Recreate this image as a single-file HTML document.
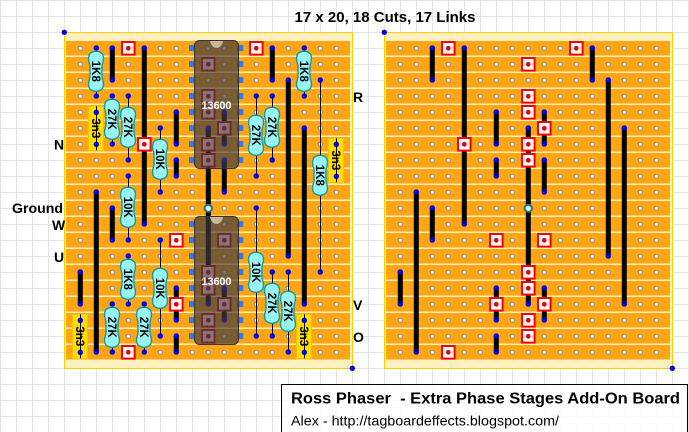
<!DOCTYPE html>
<html>
<head>
<meta charset="utf-8">
<style>
html,body{margin:0;padding:0;background:#fff;width:689px;height:432px;overflow:hidden}
svg{display:block}
text{font-family:"Liberation Sans",sans-serif}
.l{font-weight:bold;font-size:14px;fill:#000}
.r{font-size:11.5px;font-weight:bold;fill:#000;text-anchor:middle}
.k{stroke:#000;stroke-width:5;fill:none;stroke-linecap:butt}
.t{stroke:#000;stroke-width:1;fill:none}
</style>
</head>
<body>
<svg xmlns="http://www.w3.org/2000/svg" width="689" height="432" viewBox="0 0 689 432">
<defs>
<pattern id="grid" width="16" height="16" patternUnits="userSpaceOnUse">
<path d="M16.5 0V16M0 16.5H16M.5 0V16M0 .5H16" stroke="#e4e4e4" stroke-width="1" fill="none"/>
</pattern>
<pattern id="strip" x="0" y="41" width="16" height="16" patternUnits="userSpaceOnUse">
<rect width="16" height="14.5" fill="#ffa514"/>
<rect y="14.5" width="16" height="1.5" fill="#fff0c0"/>
</pattern>
<pattern id="hole" x="72" y="40" width="16" height="16" patternUnits="userSpaceOnUse">
<circle cx="8.3" cy="8.3" r="2.1" fill="#fff" stroke="#8a8a8a" stroke-width="1"/>
</pattern>
<g id="cut">
<rect x="-6" y="-6" width="12.6" height="12.6" fill="#fff" stroke="#f00" stroke-width="2"/>
<circle cx=".3" cy=".3" r="2.4" fill="#e00"/>
</g>
<circle id="d" r="2.7" fill="#0000e6"/>
<path id="rb" d="M0-20C5-20 7.5-17 7.5-13C7.5-9 6-8 6-5V5C6 8 7.5 9 7.5 13C7.5 17 5 20 0 20C-5 20-7.5 17-7.5 13C-7.5 9-6 8-6 5V-5C-6-8-7.5-9-7.5-13C-7.5-17-5-20 0-20Z" fill="#99f5f5" stroke="#159a9a" stroke-width="1.4"/>
<rect id="cap" x="-7.5" y="-22" width="15" height="44.5" fill="#ffdd00" stroke="#f2c200" stroke-width="1"/>
<g id="pins" fill="#3377ee">
<rect x="-3" y="-3" width="6" height="6"/><rect x="-3" y="13" width="6" height="6"/><rect x="-3" y="29" width="6" height="6"/><rect x="-3" y="45" width="6" height="6"/><rect x="-3" y="61" width="6" height="6"/><rect x="-3" y="77" width="6" height="6"/><rect x="-3" y="93" width="6" height="6"/><rect x="-3" y="109" width="6" height="6"/>
</g>
<g id="ring"><circle r="3.6" fill="#fff" stroke="#157a85" stroke-width="2"/></g>
</defs>

<rect width="689" height="432" fill="#fff"/>
<rect width="689" height="432" fill="url(#grid)"/>

<!-- boards -->
<rect x="64.5" y="32.5" width="288" height="336" fill="#fff0c0" stroke="#ffcc00" stroke-width="1"/>
<rect x="66" y="41" width="284" height="318.5" fill="url(#strip)"/>
<rect x="384.5" y="32.5" width="288" height="336" fill="#fff0c0" stroke="#ffcc00" stroke-width="1"/>
<rect x="386" y="41" width="284" height="318.5" fill="url(#strip)"/>
<rect x="72" y="40" width="272" height="320" fill="url(#hole)"/>
<rect x="392" y="40" width="272" height="320" fill="url(#hole)"/>

<!-- left board links -->
<path class="k" d="M112.3 48V80M144.3 48V224M96.3 192V352M112.3 208V240M176.3 112V144M176.3 160V176M208.3 128V304M224.3 112V144M224.3 160V192M80.3 272V304M176.3 288V320M176.3 336V352M224.3 288V320M272.3 48V80M288.3 80V256M304.3 128V304"/>
<g>
<use href="#d" x="112.3" y="48"/><use href="#d" x="112.3" y="80"/><use href="#d" x="144.3" y="48"/><use href="#d" x="144.3" y="224"/>
<use href="#d" x="96.3" y="192"/><use href="#d" x="96.3" y="352"/><use href="#d" x="112.3" y="208"/><use href="#d" x="112.3" y="240"/>
<use href="#d" x="176.3" y="112"/><use href="#d" x="176.3" y="144"/><use href="#d" x="176.3" y="160"/><use href="#d" x="176.3" y="176"/>
<use href="#d" x="208.3" y="128"/><use href="#d" x="208.3" y="304"/><use href="#d" x="224.3" y="112"/><use href="#d" x="224.3" y="144"/>
<use href="#d" x="224.3" y="160"/><use href="#d" x="224.3" y="192"/><use href="#d" x="80.3" y="272"/><use href="#d" x="80.3" y="304"/>
<use href="#d" x="176.3" y="288"/><use href="#d" x="176.3" y="320"/><use href="#d" x="176.3" y="336"/><use href="#d" x="176.3" y="352"/>
<use href="#d" x="224.3" y="288"/><use href="#d" x="224.3" y="320"/><use href="#d" x="272.3" y="48"/><use href="#d" x="272.3" y="80"/>
<use href="#d" x="288.3" y="80"/><use href="#d" x="288.3" y="256"/><use href="#d" x="304.3" y="128"/><use href="#d" x="304.3" y="304"/>
</g>

<!-- left board cuts -->
<use href="#cut" x="128" y="48"/><use href="#cut" x="144" y="144"/><use href="#cut" x="176" y="240"/><use href="#cut" x="176" y="304"/><use href="#cut" x="128" y="352"/><use href="#cut" x="256" y="48"/>
<use href="#cut" x="208" y="64"/><use href="#cut" x="208" y="96"/><use href="#cut" x="208" y="112"/><use href="#cut" x="224" y="128"/><use href="#cut" x="208" y="144"/><use href="#cut" x="208" y="160"/>
<use href="#cut" x="224" y="240"/><use href="#cut" x="208" y="272"/><use href="#cut" x="208" y="288"/><use href="#cut" x="224" y="304"/><use href="#cut" x="208" y="320"/><use href="#cut" x="208" y="336"/>

<!-- ICs -->
<use href="#pins" x="192" y="48"/><use href="#pins" x="240.3" y="48"/>
<use href="#pins" x="192" y="224"/><use href="#pins" x="240.3" y="224"/>
<g fill="#3c3a3e" fill-opacity=".68" stroke="#333" stroke-width="1">
<rect x="194.5" y="40.5" width="44" height="128" rx="5"/>
<rect x="194.5" y="216.5" width="44" height="128" rx="5"/>
</g>
<path d="M210 41H223C222 46 219 48 216.5 48C214 48 211 46 210 41Z" fill="#c9b79a"/>
<path d="M210 217H223C222 222 219 224 216.5 224C214 224 211 222 210 217Z" fill="#c9b79a"/>
<text x="201.5" y="109" font-size="11" font-weight="bold" fill="#fff" textLength="30" lengthAdjust="spacing">13600</text>
<text x="201.5" y="285" font-size="11" font-weight="bold" fill="#fff" textLength="30" lengthAdjust="spacing">13600</text>
<use href="#ring" x="208.3" y="208.3"/>

<!-- thin leads -->
<path class="t" d="M96.5 48V96M112.5 96V144M128.5 96V160M128.5 176V240M160.5 128V192M128.5 256V304M160.5 240V336M112.5 304V352M144.5 304V352M256.5 96V176M272.5 96V160M304.5 48V96M320.5 80V272M256.5 208V336M272.5 272V336M288.5 272V352"/>

<!-- capacitors -->
<g transform="translate(96,128.3)"><use href="#cap"/><path class="t" d="M.5-22V22"/><use href="#d" x=".3" y="-16"/><use href="#d" x=".3" y="16"/><text class="r" transform="rotate(90)" dy="4">3n3</text></g>
<g transform="translate(80,336.3)"><use href="#cap"/><path class="t" d="M.5-22V22"/><use href="#d" x=".3" y="-16"/><use href="#d" x=".3" y="16"/><text class="r" transform="rotate(90)" dy="4">3n3</text></g>
<g transform="translate(336,160.3)"><use href="#cap"/><path class="t" d="M.5-22V22"/><use href="#d" x=".3" y="-16"/><use href="#d" x=".3" y="16"/><text class="r" transform="rotate(90)" dy="4">3n3</text></g>
<g transform="translate(304,336.3)"><use href="#cap"/><path class="t" d="M.5-22V22"/><use href="#d" x=".3" y="-16"/><use href="#d" x=".3" y="16"/><text class="r" transform="rotate(90)" dy="4">3n3</text></g>

<!-- resistors -->
<g transform="translate(96,71.3)"><use href="#rb"/><text class="r" transform="rotate(90)" dy="4">1K8</text></g>
<g transform="translate(112,119.3)"><use href="#rb"/><text class="r" transform="rotate(90)" dy="4">27K</text></g>
<g transform="translate(128,127.3)"><use href="#rb"/><text class="r" transform="rotate(90)" dy="4">27K</text></g>
<g transform="translate(128,207.3)"><use href="#rb"/><text class="r" transform="rotate(90)" dy="4">10K</text></g>
<g transform="translate(160,159.3)"><use href="#rb"/><text class="r" transform="rotate(90)" dy="4">10K</text></g>
<g transform="translate(128,279.3)"><use href="#rb"/><text class="r" transform="rotate(90)" dy="4">1K8</text></g>
<g transform="translate(160,288.3)"><use href="#rb"/><text class="r" transform="rotate(90)" dy="4">10K</text></g>
<g transform="translate(112,327.3)"><use href="#rb"/><text class="r" transform="rotate(90)" dy="4">27K</text></g>
<g transform="translate(144,327.3)"><use href="#rb"/><text class="r" transform="rotate(90)" dy="4">27K</text></g>
<g transform="translate(256,135.3)"><use href="#rb"/><text class="r" transform="rotate(90)" dy="4">27K</text></g>
<g transform="translate(272,127.3)"><use href="#rb"/><text class="r" transform="rotate(90)" dy="4">27K</text></g>
<g transform="translate(304,71.3)"><use href="#rb"/><text class="r" transform="rotate(90)" dy="4">1K8</text></g>
<g transform="translate(320,175.3)"><use href="#rb"/><text class="r" transform="rotate(90)" dy="4">1K8</text></g>
<g transform="translate(256,272.3)"><use href="#rb"/><text class="r" transform="rotate(90)" dy="4">10K</text></g>
<g transform="translate(272,303.3)"><use href="#rb"/><text class="r" transform="rotate(90)" dy="4">27K</text></g>
<g transform="translate(288,311.3)"><use href="#rb"/><text class="r" transform="rotate(90)" dy="4">27K</text></g>

<!-- component dots -->
<g>
<use href="#d" x="96.3" y="48"/><use href="#d" x="96.3" y="96"/><use href="#d" x="112.3" y="96"/><use href="#d" x="112.3" y="144"/><use href="#d" x="128.3" y="96"/><use href="#d" x="128.3" y="160"/>
<use href="#d" x="128.3" y="176"/><use href="#d" x="128.3" y="240"/><use href="#d" x="160.3" y="128"/><use href="#d" x="160.3" y="192"/><use href="#d" x="128.3" y="256"/><use href="#d" x="128.3" y="304"/>
<use href="#d" x="160.3" y="240"/><use href="#d" x="160.3" y="336"/><use href="#d" x="112.3" y="304"/><use href="#d" x="112.3" y="352"/><use href="#d" x="144.3" y="304"/><use href="#d" x="144.3" y="352"/>
<use href="#d" x="256.3" y="96"/><use href="#d" x="256.3" y="176"/><use href="#d" x="272.3" y="96"/><use href="#d" x="272.3" y="160"/><use href="#d" x="304.3" y="48"/><use href="#d" x="304.3" y="96"/>
<use href="#d" x="320.3" y="80"/><use href="#d" x="320.3" y="272"/><use href="#d" x="256.3" y="208"/><use href="#d" x="256.3" y="336"/><use href="#d" x="272.3" y="272"/><use href="#d" x="272.3" y="336"/>
<use href="#d" x="288.3" y="272"/><use href="#d" x="288.3" y="352"/>
</g>

<!-- right board links -->
<path class="k" d="M432.3 48V80M464.3 48V224M592.3 48V80M608.3 80V256M624.3 128V304M496.3 112V144M496.3 160V176M528.3 128V304M544.3 112V144M544.3 160V192M416.3 192V352M432.3 208V240M400.3 272V304M496.3 288V320M496.3 336V352M544.3 288V320"/>
<g>
<use href="#d" x="432.3" y="48"/><use href="#d" x="432.3" y="80"/><use href="#d" x="464.3" y="48"/><use href="#d" x="464.3" y="224"/><use href="#d" x="592.3" y="48"/><use href="#d" x="592.3" y="80"/>
<use href="#d" x="608.3" y="80"/><use href="#d" x="608.3" y="256"/><use href="#d" x="624.3" y="128"/><use href="#d" x="624.3" y="304"/><use href="#d" x="496.3" y="112"/><use href="#d" x="496.3" y="144"/>
<use href="#d" x="496.3" y="160"/><use href="#d" x="496.3" y="176"/><use href="#d" x="528.3" y="128"/><use href="#d" x="528.3" y="304"/><use href="#d" x="544.3" y="112"/><use href="#d" x="544.3" y="144"/>
<use href="#d" x="544.3" y="160"/><use href="#d" x="544.3" y="192"/><use href="#d" x="416.3" y="192"/><use href="#d" x="416.3" y="352"/><use href="#d" x="432.3" y="208"/><use href="#d" x="432.3" y="240"/>
<use href="#d" x="400.3" y="272"/><use href="#d" x="400.3" y="304"/><use href="#d" x="496.3" y="288"/><use href="#d" x="496.3" y="320"/><use href="#d" x="496.3" y="336"/><use href="#d" x="496.3" y="352"/>
<use href="#d" x="544.3" y="288"/><use href="#d" x="544.3" y="320"/>
</g>

<!-- right board cuts -->
<use href="#cut" x="448" y="48"/><use href="#cut" x="576" y="48"/><use href="#cut" x="528" y="64"/><use href="#cut" x="528" y="96"/><use href="#cut" x="528" y="112"/><use href="#cut" x="544" y="128"/>
<use href="#cut" x="464" y="144"/><use href="#cut" x="528" y="144"/><use href="#cut" x="528" y="160"/><use href="#cut" x="496" y="240"/><use href="#cut" x="544" y="240"/><use href="#cut" x="528" y="272"/>
<use href="#cut" x="528" y="288"/><use href="#cut" x="496" y="304"/><use href="#cut" x="544" y="304"/><use href="#cut" x="528" y="320"/><use href="#cut" x="528" y="336"/><use href="#cut" x="448" y="352"/>
<use href="#ring" x="528.3" y="208.3"/>

<!-- corner dots -->
<use href="#d" x="64.3" y="32.3"/><use href="#d" x="352.3" y="368.3"/><use href="#d" x="384.3" y="32.3"/><use href="#d" x="672.3" y="368.3"/>

<!-- labels -->
<text x="294.5" y="22" font-size="14.5" font-weight="bold" textLength="181" lengthAdjust="spacingAndGlyphs">17 x 20, 18 Cuts, 17 Links</text>
<text class="l" x="54" y="149.5" font-size="15">N</text>
<text class="l" x="12" y="213" textLength="51" lengthAdjust="spacingAndGlyphs">Ground</text>
<text class="l" x="52" y="230">W</text>
<text class="l" x="54" y="262">U</text>
<text class="l" x="353" y="102">R</text>
<text class="l" x="353" y="310">V</text>
<text class="l" x="353" y="342">O</text>

<!-- title box -->
<rect x="281.5" y="384.5" width="406" height="60" fill="#fff" fill-opacity=".8" stroke="#000" stroke-width="1"/>
<text x="291" y="403.5" font-size="16" font-weight="bold" textLength="389" lengthAdjust="spacingAndGlyphs" xml:space="preserve">Ross Phaser  - Extra Phase Stages Add-On Board</text>
<text x="291" y="425.5" font-size="14" textLength="268" lengthAdjust="spacingAndGlyphs">Alex - http://tagboardeffects.blogspot.com/</text>
</svg>
</body>
</html>
